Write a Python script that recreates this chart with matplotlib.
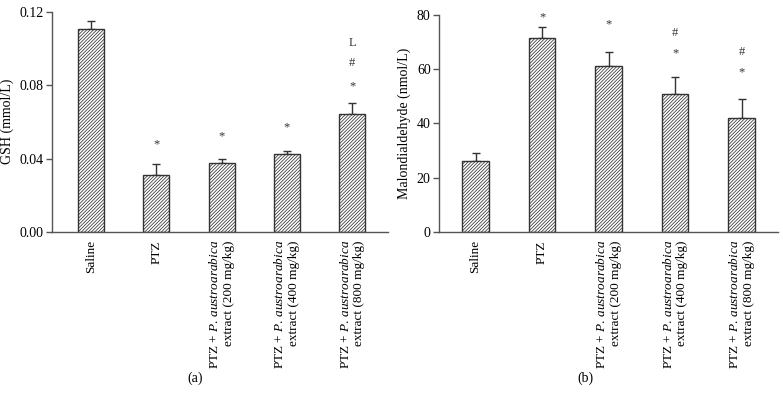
import numpy as np
import matplotlib
matplotlib.use("Agg")
import matplotlib.pyplot as plt

plt.rcParams['font.family'] = ['Liberation Serif', 'DejaVu Serif']
plt.rcParams['mathtext.fontset'] = 'custom'
plt.rcParams['mathtext.rm'] = 'Liberation Serif'
plt.rcParams['mathtext.it'] = 'Liberation Serif:italic'
plt.rcParams['hatch.linewidth'] = 0.55
plt.rcParams['hatch.color'] = '#666666'

# Groups
groups = ["Saline", "PTZ",
          "PTZ + $\\it{P.\\,austroarabica}$\nextract (200 mg/kg)",
          "PTZ + $\\it{P.\\,austroarabica}$\nextract (400 mg/kg)",
          "PTZ + $\\it{P.\\,austroarabica}$\nextract (800 mg/kg)"]

# (a) GSH
gsh_mean = [0.1107, 0.0311, 0.0376, 0.0422, 0.0642]
gsh_err = [0.0040, 0.0060, 0.0021, 0.0018, 0.0058]
gsh_marks = [[], ["*"], ["*"], ["*"], ["*", "#", "L"]]
gsh_mark_y = [[], [0.0475], [0.052], [0.057], [0.0796, 0.092, 0.103]]

# (b) Malondialdehyde
mda_mean = [26.0, 71.5, 61.3, 51.0, 42.0]
mda_err = [3.0, 4.0, 5.0, 6.0, 7.0]
mda_marks = [[], ["*"], ["*"], ["*", "#"], ["*", "#"]]
mda_mark_y = [[], [79.0], [76.5], [66.0, 73.5], [59.0, 66.5]]

fig = plt.figure(figsize=(7.83, 4.04), dpi=100)
ax1 = fig.add_axes([0.0664, 0.426, 0.429, 0.545])
ax2 = fig.add_axes([0.5607, 0.426, 0.433, 0.537])

def draw(ax, mean, err, marks, mark_y, ylim, yticks, fmt, ylabel, xlim):
    x = np.arange(len(mean))
    ax.bar(x, mean, width=0.4, color='white', edgecolor='#333333',
           linewidth=1.0, hatch='//////////', zorder=2)
    ax.errorbar(x, mean, yerr=[np.zeros(len(err)), err], fmt='none',
                ecolor='#333333', elinewidth=1.0, capsize=3, capthick=1.0,
                zorder=1)
    for xi, ms, ys in zip(x, marks, mark_y):
        for m, yv in zip(ms, ys):
            ax.text(xi, yv, m, ha='center', va='center', fontsize=9,
                    color='#333333')
    ax.set_xlim(*xlim)
    ax.set_ylim(*ylim)
    ax.set_yticks(yticks)
    ax.set_yticklabels([fmt.format(v) for v in yticks])
    ax.set_xticks(x)
    ax.set_xticklabels(groups, rotation=90, fontsize=9.5, va='top',
                       ha='center', multialignment='right')
    ax.tick_params(axis='x', length=0, pad=6)
    ax.tick_params(axis='y', length=4, width=1.0, color='#555555',
                   labelsize=10, pad=2)
    ax.set_ylabel(ylabel, fontsize=10, labelpad=4)
    for s in ['top', 'right']:
        ax.spines[s].set_visible(False)
    for s in ['left', 'bottom']:
        ax.spines[s].set_color('#555555')
        ax.spines[s].set_linewidth(1.0)

draw(ax1, gsh_mean, gsh_err, gsh_marks, gsh_mark_y, (0, 0.12),
     [0.0, 0.04, 0.08, 0.12], "{:.2f}", "GSH (mmol/L)", (-0.6, 4.55))
draw(ax2, mda_mean, mda_err, mda_marks, mda_mark_y, (0, 80),
     [0, 20, 40, 60, 80], "{:.0f}", "Malondialdehyde (nmol/L)", (-0.55, 4.55))

fig.text(195 / 783, 1 - 378 / 404, "(a)", ha='center', va='center', fontsize=10)
fig.text(585 / 783, 1 - 378 / 404, "(b)", ha='center', va='center', fontsize=10)

fig.savefig("out.png", dpi=100)
